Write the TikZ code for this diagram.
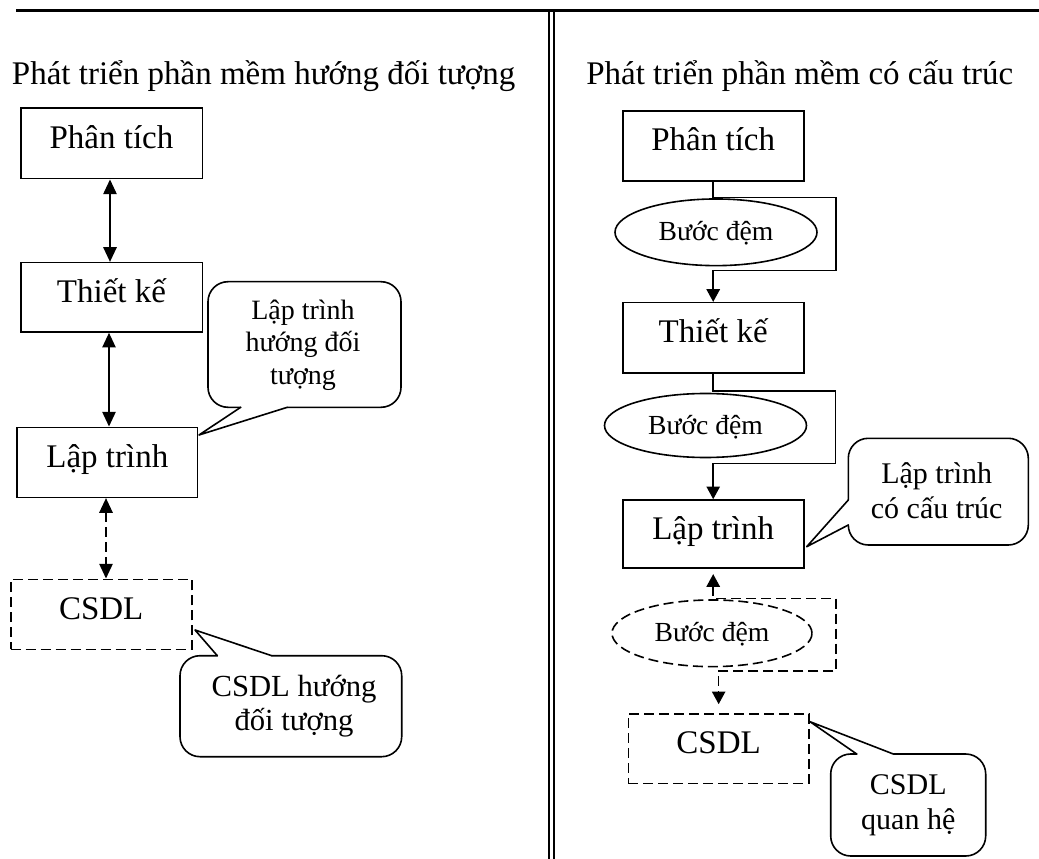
\documentclass[tikz,border=0pt]{standalone}
\usepackage{fontspec}
\setmainfont{Liberation Serif}
\usetikzlibrary{arrows.meta,shapes.geometric}

\newcommand\fsMain{\fontsize{24.75pt}{29pt}\selectfont}
\newcommand\fsBuf{\fontsize{20.7pt}{24pt}\selectfont}

\begin{document}
\begin{tikzpicture}[x=0.75pt,y=-0.75pt,
  procbox/.style={draw, line width=1.2pt, inner sep=0pt, font=\fsMain,
    text height=12pt, text depth=4.5pt, minimum width=135.75pt, minimum height=52.5pt},
  dashbox/.style={procbox, dash pattern=on 7.5pt off 3.75pt},
  bufnode/.style={ellipse, draw, line width=1.2pt, inner sep=0pt, font=\fsBuf,
    text height=15pt, text depth=2pt, minimum width=151.5pt, minimum height=50pt},
  link/.style={line width=1.2pt},
  biarrow/.style={link, {Triangle[length=11pt,width=10pt]}-{Triangle[length=11pt,width=10pt]}},
  onearrow/.style={link, -{Triangle[length=9.5pt,width=10pt]}},
  dashline/.style={dash pattern=on 7.5pt off 3.75pt},
  calloutline/.style={line width=1.2pt, line cap=round, line join=round},
  notetext/.style={align=center, inner sep=0pt},
]
\useasboundingbox (0,0) rectangle (1039,859);

% page frame: top rule and the double column separator
\draw[line width=2.6pt] (16,10.7) -- (1039,10.7);
\draw[line width=1.5pt] (549.2,12) -- (549.2,859);
\draw[line width=1.5pt] (553.5,12) -- (553.5,859);

% column headings
\node[anchor=base west, inner sep=0pt, font=\fsMain] (ltitle) at (11.7,85)
  {Phát triển phần mềm hướng đối tượng};
\node[anchor=base west, inner sep=0pt, font=\fsMain] (rtitle) at (586,85)
  {Phát triển phần mềm có cấu trúc};

% ---------- left column: object-oriented development ----------
\node[procbox, minimum width=136.2pt, minimum height=53pt] (lphan) at (111.5,143.35) {Phân tích};
\node[procbox, minimum width=136.2pt, minimum height=52pt] (lthiet) at (111.5,297.35) {Thiết kế};
\node[procbox, minimum width=135.5pt] (llap) at (107.35,462.3) {Lập trình};
\node[dashbox] (lcsdl) at (101.2,614.3) {CSDL};

\coordinate (ax1) at (110,0);
\coordinate (ax2) at (109,0);
\coordinate (ax3) at (106,0);
\draw[biarrow] (lphan.south -| ax1) -- (lthiet.north -| ax1);
\draw[biarrow] (lthiet.south -| ax2) -- (llap.north -| ax2);
\draw[biarrow, dashline] (llap.south -| ax3) -- (lcsdl.north -| ax3);

% callout: object-oriented programming
\draw[calloutline, rounded corners=15pt]
  (240.7,407.3) -- (208,407.3) -- (208,281.7) -- (401,281.7) -- (401,407.3) -- (287.3,407.3);
\draw[calloutline] (287.3,407.3) -- (199,435) -- (240.7,407.3);
\node[notetext, font=\fontsize{21pt}{24.5pt}\selectfont] (nl1) at (303,345)
  {Lập trình\\hướng đối\\tượng};

% callout: object-oriented database
\draw[calloutline, rounded corners=15pt]
  (271.7,655.7) -- (401.7,655.7) -- (401.7,756.7) -- (180,756.7) -- (180,655.7) -- (217.3,655.7);
\draw[calloutline] (217.3,655.7) -- (195,630) -- (271.7,655.7);
\node[notetext, font=\fontsize{23pt}{25.8pt}\selectfont] (nl2) at (294,706.4)
  {CSDL hướng\\đối tượng};

% ---------- right column: structured development ----------
\node[procbox] (rphan) at (713.2,146) {Phân tích};
\node[procbox] (rthiet) at (713.2,337.7) {Thiết kế};
\node[procbox, minimum height=51.2pt] (rlap) at (713.2,534.15) {Lập trình};
\node[dashbox, minimum width=135.5pt, minimum height=52pt] (rcsdl) at (718.65,748.65) {CSDL};

\node[bufnode] (buf1) at (716,232.3) {Bước đệm};
\node[bufnode, minimum height=48pt] (buf2) at (705.5,425.5) {Bước đệm};
\node[bufnode, dashline, minimum width=150pt] (buf3) at (712,633.3) {Bước đệm};

% loops passing through the intermediate steps
\coordinate (k1a) at (835.7,197.7);
\coordinate (k1b) at (835.7,270.7);
\draw[onearrow] (rphan.south) |- (k1a) -- (k1b) -| (rthiet.north);

\coordinate (k2a) at (835.3,391);
\coordinate (k2b) at (835.3,463.3);
\draw[onearrow] (rthiet.south) |- (k2a) -- (k2b) -| (rlap.north);

\coordinate (k3a) at (836,598.3);
\coordinate (k3b) at (836,671);
\draw[link, dashline, {Triangle[length=9.5pt,width=10pt]}-{Triangle[length=9.5pt,width=10pt]},
      shorten <=3.75pt, shorten >=6.75pt]
  (rlap.south) |- (k3a) -- (k3b) -| (rcsdl.north);

% callout: structured programming
\draw[calloutline, rounded corners=15pt]
  (848.3,500) -- (848.3,438.3) -- (1028.3,438.3) -- (1028.3,545) -- (848.3,545) -- (848.3,525);
\draw[calloutline] (848.3,525) -- (806.7,546.7) -- (848.3,500);
\node[notetext, font=\fontsize{22.5pt}{26.25pt}\selectfont] (nr1) at (936.7,490.5)
  {Lập trình\\có cấu trúc};

% callout: relational database
\draw[calloutline, rounded corners=15pt]
  (893.3,754) -- (985.7,754) -- (985.7,856) -- (830.7,856) -- (830.7,754) -- (856.7,754);
\draw[calloutline] (856.7,754) -- (810,721.7) -- (893.3,754);
\node[notetext, font=\fontsize{22.5pt}{26pt}\selectfont] (nr2) at (908.3,805.5)
  {CSDL\\quan hệ};
\end{tikzpicture}
\end{document}
